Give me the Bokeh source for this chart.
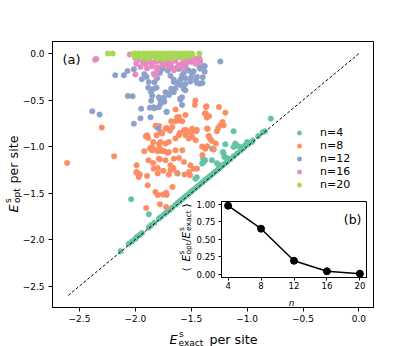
import math
from bokeh.plotting import figure
from bokeh.models import Range1d, Label, Legend, LegendItem, FixedTicker, Column
from bokeh.embed import file_html
from bokeh.resources import INLINE

# ---------------- data ----------------
series_n = [4, 8, 12, 16, 20]
series_colors = ["#66c2a5", "#fc8d62", "#8da0cb", "#e78ac3", "#a6d854"]

n4_pts = [(-2.132, -2.124), (-2.037, -1.567), (-2.06, -2.045), (-2.03, -2.02), (-2.0, -1.99),
          (-1.985, -1.97), (-1.96, -1.95), (-1.94, -1.93), (-1.879, -1.728), (-1.88, -1.87),
          (-1.86, -1.845), (-1.83, -1.82), (-1.79, -1.775), (-1.77, -1.755), (-1.74, -1.725),
          (-1.72, -1.705), (-1.69, -1.68), (-1.67, -1.655), (-1.64, -1.625), (-1.62, -1.605),
          (-1.6, -1.585), (-1.58, -1.565), (-1.56, -1.545), (-1.54, -1.525), (-1.52, -1.505),
          (-1.5, -1.485), (-1.48, -1.465), (-1.46, -1.445), (-1.44, -1.425), (-1.42, -1.405),
          (-1.4, -1.385), (-1.38, -1.365), (-1.36, -1.345), (-1.34, -1.325), (-1.32, -1.305),
          (-1.3, -1.285), (-1.28, -1.265), (-1.26, -1.245), (-1.24, -1.225), (-1.22, -1.205),
          (-1.2, -1.185), (-1.18, -1.165), (-1.15, -1.135), (-1.12, -1.105), (-1.09, -1.075),
          (-1.06, -1.045), (-1.03, -1.015), (-0.99, -0.975), (-0.95, -0.935), (-0.9, -0.885),
          (-0.86, -0.845), (-0.84, -0.835),
          (-1.621, -1.29), (-1.45, -1.33), (-1.463, -1.345), (-1.39, -1.166), (-1.376, -1.147),
          (-1.394, -1.13), (-1.403, -1.183), (-1.314, -1.022), (-1.299, -1.029), (-1.216, -1.058),
          (-1.204, -1.112), (-1.18, -1.122), (-1.121, -1.004), (-1.106, -0.968), (-1.085, -0.993),
          (-1.047, -1.004), (-1.017, -0.986), (-1.121, -0.835), (-0.788, -0.699), (-1.0, -0.95),
          (-0.957, -0.95), (-1.24, -1.2), (-1.195, -0.975), (-1.27, -1.18), (-1.255, -1.2),
          (-1.21, -1.077), (-1.315, -1.147)]

n8_pts = [(-2.61, -1.176), (-2.30, -0.796), (-2.19, -1.104), (-1.906, -0.889), (-1.885, -0.907),
          (-1.814, -0.778), (-1.787, -0.778), (-1.85, -1.004), (-1.80, -1.05), (-1.79, -0.976),
          (-1.882, -1.147), (-1.84, -1.176), (-1.78, -1.137), (-1.989, -1.201), (-1.835, -1.237),
          (-1.80, -1.23), (-1.989, -1.273), (-1.96, -1.298), (-1.97, -1.327), (-1.895, -1.316),
          (-1.80, -1.29), (-1.89, -1.416), (-1.82, -1.488), (-1.80, -1.52), (-1.668, -1.434),
          (-1.754, -1.516), (-1.724, -1.495), (-1.78, -1.62), (-1.724, -1.649), (-1.903, -1.66),
          (-1.68, -0.728), (-1.641, -0.728), (-1.61, -0.681), (-1.58, -0.728), (-1.73, -0.807),
          (-1.76, -0.86), (-1.81, -0.878), (-1.84, -0.95), (-1.775, -0.95), (-1.73, -0.968),
          (-1.70, -0.95), (-1.641, -0.914), (-1.61, -0.878), (-1.551, -0.878), (-1.522, -0.914),
          (-1.492, -0.896), (-1.46, -0.932), (-1.565, -0.825), (-1.52, -0.842), (-1.492, -0.807),
          (-1.454, -0.835), (-1.359, -0.807), (-1.344, -0.885), (-1.33, -0.921), (-1.27, -0.835),
          (-1.26, -0.80), (-1.24, -0.771), (-1.22, -0.735), (-1.403, -1.0), (-1.374, -1.022),
          (-1.85, -1.04), (-1.76, -1.05), (-1.70, -1.057), (-1.641, -1.04), (-1.58, -1.04),
          (-1.79, -1.13), (-1.73, -1.147), (-1.656, -1.13), (-1.61, -1.122), (-1.565, -1.165),
          (-1.508, -1.201), (-1.478, -1.237), (-1.52, -1.273), (-1.448, -1.237), (-1.686, -1.201),
          (-1.686, -1.255), (-1.72, -1.52), (-1.368, -0.574), (-1.252, -0.574), (-1.379, -0.645),
          (-1.36, -0.688), (-1.195, -0.635), (-1.21, -0.771), (-1.353, -0.807), (-1.344, -0.89),
          (-1.314, -0.94), (-1.28, -0.968), (-1.358, -0.996), (-1.30, -1.03), (-1.40, -1.09),
          (-1.463, -0.505), (-1.467, -0.552), (-1.364, -0.566), (-1.37, -0.642), (-1.34, -0.674),
          (-1.552, -0.66), (-1.64, -0.60), (-1.627, -0.685), (-1.61, -0.72), (-1.82, -0.778),
          (-1.775, -0.843), (-1.894, -0.878), (-1.72, -0.80), (-1.69, -0.83), (-1.67, -0.79),
          (-1.60, -0.85), (-1.55, -0.82), (-1.50, -0.85), (-1.45, -0.82), (-1.92, -1.05),
          (-1.87, -1.02), (-1.83, -1.03), (-1.78, -1.02), (-1.74, -1.05), (-1.71, -1.07),
          (-1.99, -1.28), (-1.75, -1.26), (-1.70, -1.30), (-1.66, -1.23), (-1.63, -1.28),
          (-1.56, -1.30), (-1.51, -1.309)]

n12_pts = [(-2.385, -0.62), (-2.32, -0.656), (-2.18, -0.233), (-2.103, -0.233), (-2.07, -0.187),
           (-2.013, -0.169), (-2.067, -0.456), (-2.025, -0.459), (-2.013, -0.753), (-1.948, -0.592),
           (-1.87, -0.581), (-1.829, -0.588), (-1.796, -0.803), (-1.942, -0.276), (-1.88, -0.305),
           (-1.885, -0.366), (-1.86, -0.412), (-1.81, -0.366), (-1.775, -0.502), (-1.745, -0.474),
           (-1.70, -0.43), (-1.679, -0.377), (-1.655, -0.305), (-1.58, -0.341), (-1.552, -0.395),
           (-1.721, -0.628), (-1.597, -0.484), (-1.478, -0.19), (-1.42, -0.162), (-1.448, -0.251),
           (-1.424, -0.323), (-1.24, -0.086), (-1.383, -0.137), (-1.38, -0.194), (-1.424, -0.147),
           (-1.492, -0.208), (-1.5, -0.255), (-1.457, -0.29), (-1.397, -0.255), (-1.448, -0.316),
           (-1.508, -0.301), (-1.552, -0.266), (-1.582, -0.237), (-1.597, -0.28), (-1.567, -0.208),
           (-1.627, -0.316), (-1.656, -0.28), (-1.686, -0.237), (-1.71, -0.183), (-1.73, -0.147),
           (-1.76, -0.165), (-1.781, -0.208), (-1.805, -0.266), (-1.829, -0.309), (-1.84, -0.38),
           (-1.849, -0.452), (-1.858, -0.506), (-1.79, -0.47), (-1.76, -0.488), (-1.74, -0.517),
           (-1.775, -0.542), (-1.79, -0.578), (-1.835, -0.578), (-1.73, -0.416), (-1.70, -0.445),
           (-1.656, -0.416), (-1.641, -0.373), (-1.597, -0.337), (-1.567, -0.38), (-1.552, -0.326),
           (-1.582, -0.47), (-1.597, -0.495), (-1.582, -0.552), (-1.72, -0.624), (-1.612, -0.165),
           (-1.68, -0.147), (-1.522, -0.183), (-1.552, -0.147), (-1.745, -0.094), (-1.954, -0.696),
           (-1.864, -0.685), (-1.40, -0.316), (-1.38, -0.133), (-1.92, -0.22), (-1.90, -0.25)]

n16_pts = [(-2.36, -0.065), (-2.35, -0.058), (-2.05, -0.01), (-2.0, -0.224), (-1.992, -0.108),
           (-1.969, -0.04), (-1.954, -0.144), (-1.94, -0.076), (-1.91, -0.112), (-1.895, -0.158),
           (-1.865, -0.094), (-1.85, -0.137), (-1.82, -0.086), (-1.805, -0.147), (-1.79, -0.04),
           (-1.835, -0.219), (-1.82, -0.237), (-1.79, -0.076), (-1.805, -0.18), (-1.745, -0.058),
           (-1.716, -0.094), (-1.686, -0.04), (-1.68, -0.10), (-1.641, -0.076), (-1.612, -0.122),
           (-1.582, -0.112), (-1.567, -0.086), (-1.597, -0.04), (-1.552, -0.04), (-1.522, -0.065),
           (-1.478, -0.058), (-1.428, -0.05), (-1.42, -0.094), (-1.567, -0.165), (-1.627, -0.147),
           (-1.656, -0.165), (-1.716, -0.144), (-1.655, -0.18), (-1.582, -0.126), (-1.463, -0.054),
           (-1.424, -0.065), (-1.96, -0.06), (-1.93, -0.09), (-1.88, -0.07), (-1.76, -0.12),
           (-1.70, -0.13), (-1.54, -0.10), (-1.50, -0.09), (-1.46, -0.11), (-2.0, -0.05)]

n20_pts = [(-2.245, 0.0), (-2.203, 0.0), (-1.427, 0.0),
           (-2.025, -0.005), (-2.01, -0.02), (-2.0, 0.0), (-1.99, -0.035), (-1.985, -0.01),
           (-1.97, 0.0), (-1.965, -0.025), (-1.955, -0.005), (-1.945, -0.045), (-1.94, -0.015),
           (-1.93, 0.0), (-1.92, -0.03), (-1.91, -0.01), (-1.9, 0.0), (-1.895, -0.055),
           (-1.885, -0.02), (-1.875, 0.0), (-1.87, -0.04), (-1.86, -0.01), (-1.85, 0.0),
           (-1.845, -0.025), (-1.835, -0.005), (-1.825, -0.035), (-1.815, 0.0), (-1.81, -0.015),
           (-1.8, -0.05), (-1.79, 0.0), (-1.785, -0.02), (-1.775, -0.005), (-1.765, -0.03),
           (-1.755, 0.0), (-1.75, -0.06), (-1.74, -0.01), (-1.73, 0.0), (-1.725, -0.025),
           (-1.715, -0.04), (-1.705, 0.0), (-1.7, -0.015), (-1.69, -0.005), (-1.68, -0.03),
           (-1.67, 0.0), (-1.665, -0.05), (-1.655, -0.01), (-1.645, 0.0), (-1.64, -0.02),
           (-1.63, -0.035), (-1.62, 0.0), (-1.61, -0.01), (-1.6, -0.025), (-1.59, 0.0),
           (-1.585, -0.045), (-1.575, -0.005), (-1.565, -0.02), (-1.555, 0.0), (-1.545, -0.03),
           (-1.535, -0.01), (-1.525, 0.0), (-1.515, -0.02), (-1.505, -0.005), (-1.495, 0.0),
           (-1.49, -0.015)]

diag_x = [-2.6, 0.0]
diag_y = [-2.6, 0.0]

main_ticks = [-2.5, -2.0, -1.5, -1.0, -0.5, 0.0]
main_tick_labels = ["\u22122.5", "\u22122.0", "\u22121.5", "\u22121.0", "\u22120.5", "0.0"]

inset_n = [4, 8, 12, 16, 20]
inset_ratio = [0.98, 0.65, 0.19, 0.04, 0.005]
inset_yticks = [0.0, 0.25, 0.5, 0.75, 1.0]
inset_ytick_labels = ["0.00", "0.25", "0.50", "0.75", "1.00"]

FONT = "DejaVu Sans"
W, H = 415, 346


def no_frame_align(fig):
    try:
        fig.frame_align = False
    except AttributeError:
        pass


# ---------------- main figure ----------------
p = figure(width=W, height=H, title=None,
           x_range=Range1d(-2.741, 0.1305), y_range=Range1d(-2.73, 0.13),
           output_backend="svg", toolbar_location=None,
           min_border_left=52, min_border_right=42, min_border_top=41, min_border_bottom=39)
no_frame_align(p)
p.xgrid.visible = False
p.ygrid.visible = False
p.outline_line_color = "black"
p.outline_line_width = 1
p.background_fill_color = "white"
p.border_fill_color = "white"

for ax, standoff in ((p.xaxis, 3), (p.yaxis, 4)):
    ax.ticker = FixedTicker(ticks=main_ticks)
    ax.major_label_overrides = dict(zip(main_ticks, main_tick_labels))
    ax.minor_tick_line_color = None
    ax.major_tick_in = 0
    ax.major_tick_out = 4
    ax.major_tick_line_color = "black"
    ax.axis_line_color = "black"
    ax.major_label_text_font = FONT
    ax.major_label_text_font_size = "9px"
    ax.major_label_text_color = "black"
    ax.major_label_standoff = standoff

all_pts = [n4_pts, n8_pts, n12_pts, n16_pts, n20_pts]
items = []
for n, pts, col in zip(series_n, all_pts, series_colors):
    xs = [a for a, b in pts]
    ys = [b for a, b in pts]
    r = p.scatter(xs, ys, size=5.5, fill_color=col, line_color=col, line_width=0.5)
    items.append(LegendItem(label="n=%d" % n, renderers=[r]))

p.line(diag_x, diag_y, line_color="black", line_width=1, line_dash="3 2")

legend = Legend(items=items, location=(237, 116), orientation="vertical",
                border_line_color=None, background_fill_alpha=0,
                padding=0, margin=0, spacing=-1, glyph_width=20, glyph_height=11,
                label_height=11, label_standoff=11,
                label_text_font=FONT, label_text_font_size="11px", label_text_color="black")
p.add_layout(legend)

# ---------------- inset ----------------
ins = figure(width=202, height=111, title=None,
             x_range=Range1d(3.2, 20.8), y_range=Range1d(-0.05, 1.04),
             output_backend="svg", toolbar_location=None,
             min_border_left=52, min_border_right=5, min_border_top=5, min_border_bottom=30)
no_frame_align(ins)
ins.margin = (-150, 0, 0, 169)
ins.border_fill_color = None
ins.background_fill_color = "white"
ins.outline_line_color = "black"
ins.outline_line_width = 1
ins.xgrid.visible = False
ins.ygrid.visible = False
ins.xaxis.ticker = FixedTicker(ticks=inset_n)
ins.yaxis.ticker = FixedTicker(ticks=inset_yticks)
ins.yaxis.major_label_overrides = dict(zip(inset_yticks, inset_ytick_labels))
for ax, standoff in ((ins.xaxis, 1), (ins.yaxis, 3)):
    ax.minor_tick_line_color = None
    ax.major_tick_in = 0
    ax.major_tick_out = 3
    ax.major_tick_line_color = "black"
    ax.axis_line_color = "black"
    ax.major_label_text_font = FONT
    ax.major_label_text_font_size = "8.5px"
    ax.major_label_text_color = "black"
    ax.major_label_standoff = standoff

ins.line(inset_n, inset_ratio, line_color="black", line_width=1.5)
ins.scatter(inset_n, inset_ratio, size=7, fill_color="black", line_color="black")

# ---------------- transparent text overlay (pixel coordinates, y down) ----------------
ov = figure(width=W, height=H, title=None, x_range=Range1d(0, W), y_range=Range1d(H, 0),
            output_backend="svg", toolbar_location=None,
            x_axis_location=None, y_axis_location=None, min_border=0)
no_frame_align(ov)
ov.margin = (-(H + 111 - 150), 0, 0, 0)
ov.border_fill_color = None
ov.background_fill_color = None
ov.outline_line_color = None
ov.xgrid.visible = False
ov.ygrid.visible = False


def lab(x, y, text, size, style="normal", angle=0.0, align="left"):
    ov.add_layout(Label(x=x, y=y, text=text, text_font=FONT, text_font_size=size,
                        text_font_style=style, text_color="black", angle=angle,
                        text_align=align, text_baseline="alphabetic"))


R = math.pi / 2
# panel labels
lab(62, 59, "(a)", "13px")
lab(361, 218.5, "(b)", "12.5px", align="right")
# x axis label: E^s_exact per site
lab(169, 339, "E", "12.7px", "italic")
lab(178.5, 333, "s", "9px")
lab(178, 342, "exact", "9px")
lab(209, 339, "per site", "12.7px")
# y axis label: E^s_opt per site (rotated)
lab(13, 212, "E", "12.7px", "italic", R)
lab(7.5, 202.5, "s", "9px", "normal", R)
lab(16, 202.5, "opt", "9px", "normal", R)
lab(13, 183, "per site", "12.7px", "normal", R)
# inset axis labels
lab(291, 302, "n", "9px", "italic", align="center")
lab(185.5, 271, "\u27e8", "10.5px", "normal", R)
lab(185.5, 261, "E", "10.5px", "italic", R)
lab(180.5, 254, "s", "7.5px", "normal", R)
lab(188, 254, "opt", "7.5px", "normal", R)
lab(185.5, 241.5, "/", "10.5px", "normal", R)
lab(185.5, 238, "E", "10.5px", "italic", R)
lab(180.5, 230.5, "s", "7.5px", "normal", R)
lab(188, 230.5, "exact", "7.5px", "normal", R)
lab(185.5, 207, "\u27e9", "10.5px", "normal", R)

root = Column(children=[p, ins, ov], spacing=0)

open("out.html", "w").write(file_html(root, INLINE))
